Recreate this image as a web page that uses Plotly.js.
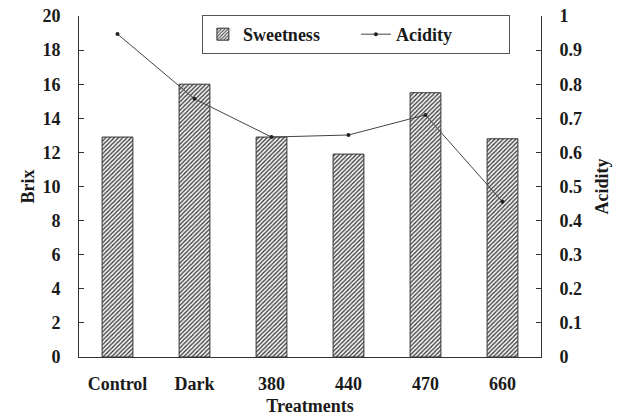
<!DOCTYPE html>
<html>
<head>
<meta charset="utf-8">
<script src="https://cdn.plot.ly/plotly-3.0.1.min.js"></script>
<style>html,body{margin:0;padding:0;background:#fff;}#chart{width:626px;height:418px;}</style>
</head>
<body>
<div id="chart"></div>
<script>
const categories = ["Control", "Dark", "380", "440", "470", "660"];
const sweetness = [12.9, 16.0, 12.9, 11.9, 15.5, 12.8];
const acidity = [0.947, 0.757, 0.645, 0.651, 0.71, 0.455];

const fontFam = "Liberation Serif, Times New Roman, serif";
const ink = "#1a1a1a";
const fs = 18;

const traces = [
  {
    type: "bar",
    name: "Sweetness",
    x: categories,
    y: sweetness,
    width: 0.4,
    marker: {
      color: "#ffffff",
      line: {color: "#333", width: 1},
      pattern: {shape: "/", fgcolor: "#333", bgcolor: "#f4f4f4", size: 3, solidity: 0.4}
    },
    yaxis: "y"
  },
  {
    type: "scatter",
    mode: "lines+markers",
    name: "Acidity",
    x: categories,
    y: acidity,
    line: {color: "#444", width: 1},
    marker: {color: "#222", size: 4},
    yaxis: "y2"
  }
];

const layout = {
  width: 626,
  height: 418,
  margin: {l: 79, r: 85, t: 16, b: 61},
  paper_bgcolor: "#fff",
  plot_bgcolor: "#fff",
  font: {family: fontFam, color: ink, size: fs},
  showlegend: true,
  legend: {
    orientation: "h",
    x: 0.266, xanchor: "left",
    y: 1.003, yanchor: "top",
    bordercolor: "#555",
    borderwidth: 1,
    bgcolor: "#fff",
    font: {family: fontFam, size: fs, color: ink, weight: "bold"},
    itemwidth: 30,
    entrywidth: 108,
    entrywidthmode: "pixels"
  },
  xaxis: {
    type: "category",
    showline: true,
    linecolor: "#333",
    linewidth: 1,
    ticks: "",
    showgrid: false,
    tickfont: {family: fontFam, size: fs, color: ink, weight: "bold"},
    ticklabelstandoff: 10,
    title: {text: "Treatments", font: {family: fontFam, size: fs, color: ink, weight: "bold"}, standoff: 6},
    range: [-0.5, 5.5]
  },
  yaxis: {
    range: [0, 20],
    dtick: 2,
    showline: true,
    linecolor: "#333",
    linewidth: 1,
    ticks: "inside",
    ticklen: 5,
    tickcolor: "#333",
    showgrid: false,
    zeroline: false,
    tickfont: {family: fontFam, size: fs, color: ink, weight: "bold"},
    ticklabelstandoff: 14,
    title: {text: "Brix", font: {family: fontFam, size: fs, color: ink, weight: "bold"}, standoff: 3}
  },
  yaxis2: {
    overlaying: "y",
    side: "right",
    range: [0, 1],
    dtick: 0.1,
    showline: true,
    linecolor: "#333",
    linewidth: 1,
    ticks: "inside",
    ticklen: 5,
    tickcolor: "#333",
    showgrid: false,
    zeroline: false,
    tickfont: {family: fontFam, size: fs, color: ink, weight: "bold"},
    ticklabelstandoff: 14,
    title: {text: "Acidity", font: {family: fontFam, size: fs, color: ink, weight: "bold"}, standoff: 14}
  }
};

Plotly.newPlot("chart", traces, layout, {staticPlot: true, displayModeBar: false});
</script>
</body>
</html>
